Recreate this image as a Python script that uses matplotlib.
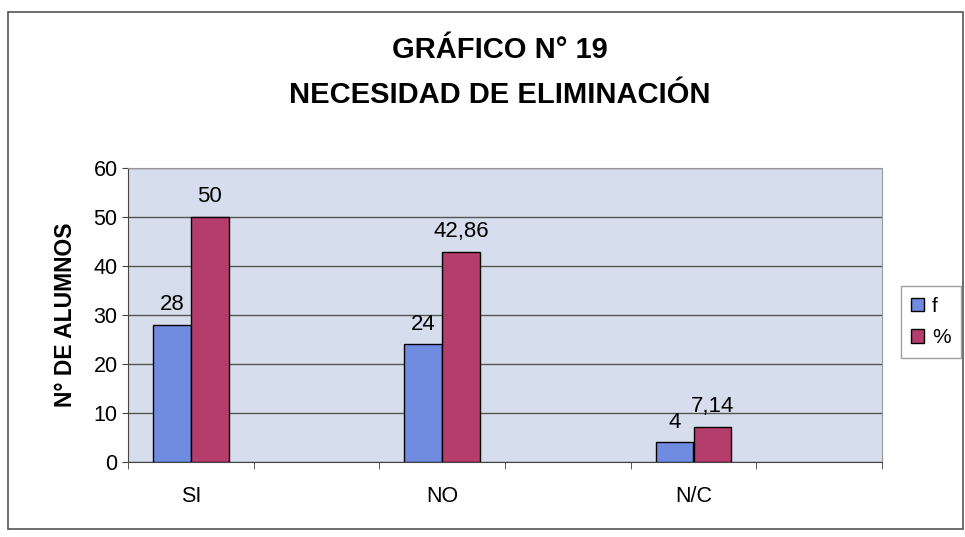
import matplotlib.pyplot as plt
from matplotlib.patches import Rectangle
import numpy as np

# datos
categorias = ['SI', '', 'NO', '', 'N/C', '']
f_vals = [28, 24, 4]
pct_vals = [50, 42.86, 7.14]
f_labels = ['28', '24', '4']
pct_labels = ['50', '42,86', '7,14']
y_ticks = [0, 10, 20, 30, 40, 50, 60]

plt.rcParams['font.family'] = ['Liberation Sans', 'DejaVu Sans']

fig = plt.figure(figsize=(9.65, 5.37), dpi=100)
fig.patch.set_facecolor('white')
# marco del gráfico
fig.patches.append(Rectangle((8 / 965, 8 / 537), 955 / 965, 517 / 537,
                             transform=fig.transFigure, fill=False,
                             edgecolor='#555555', linewidth=1.2))

ax = fig.add_axes([128 / 965, 1 - 462 / 537, 754 / 965, 294 / 537])
ax.set_facecolor('#d6ddec')

pos = np.array([0, 2, 4])
w = 0.3
b1 = ax.bar(pos - w / 2, f_vals, w, color='#6f8ce0', edgecolor='black',
            linewidth=1, label='f', zorder=3)
b2 = ax.bar(pos + w / 2, pct_vals, w, color='#b53d6c', edgecolor='black',
            linewidth=1, label='%', zorder=3)

for rect, lab in zip(b1, f_labels):
    ax.text(rect.get_x() + rect.get_width() / 2, rect.get_height() + 2, lab,
            ha='center', va='bottom', fontsize=16)
for rect, lab in zip(b2, pct_labels):
    ax.text(rect.get_x() + rect.get_width() / 2, rect.get_height() + 2, lab,
            ha='center', va='bottom', fontsize=16)

ax.set_ylim(0, 60)
ax.set_xlim(-0.5, 5.5)
ax.set_yticks(y_ticks)
ax.set_xticks(range(len(categorias)))
ax.set_xticklabels(categorias, fontsize=15.5)
ax.set_xticks(np.arange(-0.5, 6, 1), minor=True)
ax.tick_params(axis='x', which='major', length=0, pad=17)
ax.tick_params(axis='x', which='minor', length=5, color='#444444')
ax.tick_params(axis='y', labelsize=15.5, length=4, color='#444444')
ax.yaxis.grid(True, color='#555555', linewidth=1, zorder=1)
ax.set_axisbelow(True)
for s in ['top', 'right']:
    ax.spines[s].set_color('#999999')
for s in ['left', 'bottom']:
    ax.spines[s].set_color('#444444')

ax.set_ylabel('N° DE ALUMNOS', fontsize=16.5, fontweight='bold', labelpad=12)

fig.text(0.518, 1 - 50 / 537, 'GRÁFICO N° 19', ha='center', va='center',
         fontsize=21, fontweight='bold')
fig.text(0.518, 1 - 95 / 537, 'NECESIDAD DE ELIMINACIÓN', ha='center',
         va='center', fontsize=21, fontweight='bold')

leg = fig.legend(handles=[b1, b2], labels=['f', '%'], loc='center',
                 bbox_to_anchor=(931 / 965, 1 - 322 / 537), fontsize=15,
                 frameon=True, fancybox=False, edgecolor='#888888',
                 handlelength=0.6, handleheight=0.6, handletextpad=0.4,
                 borderpad=0.5, labelspacing=0.6)

fig.savefig('out.png', dpi=100)
